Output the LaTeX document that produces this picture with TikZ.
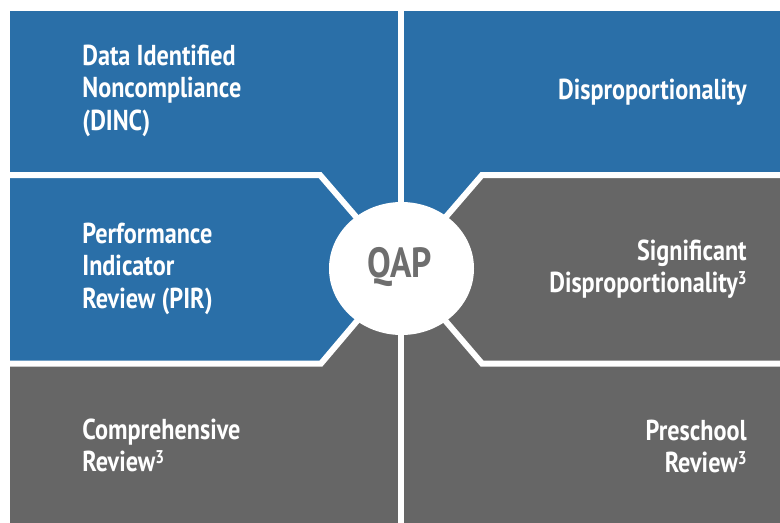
\documentclass[tikz,border=0pt]{standalone}
\usepackage{fontspec}
\newfontfamily\panelfont{PT Sans}[FakeStretch=0.84]
\usepackage{xcolor}
\usepackage{tikz}
\usetikzlibrary{calc, shapes.geometric}

\definecolor{qapblue}{RGB}{42,111,168}
\definecolor{qapgray}{RGB}{102,102,102}
\definecolor{hubtext}{RGB}{110,110,110}

\newcommand{\supthree}{\raisebox{0.27em}{\fontsize{10.5}{10}\selectfont 3}}

\tikzset{
    lbl/.style={font=\panelfont\bfseries\fontsize{16.4}{20}\selectfont, text=white, inner sep=0pt},
    gap/.style={draw=white, line width=1.2mm, line cap=butt, line join=miter},
}

\begin{document}
\begin{tikzpicture}[x=0.2mm, y=-0.2mm]
                \useasboundingbox (0,0) rectangle (780,523);
                \def\D{32.5}; % line spacing
                \coordinate (c) at (401,269);

                % panels
                \fill[qapblue] (10,11) -- (401,11) -- (c) -- (321,363) -- (10,363) -- cycle;
                \fill[qapgray] (10,363) -- (321,363) -- (c) -- (401,523) -- (10,523) -- cycle;
                \fill[qapblue] (401,11) -- (780,11) -- (780,175) -- (482,175) -- (c) -- cycle;
                \fill[qapgray] (c) -- (482,175) -- (780,175) -- (780,523) -- (401,523) -- cycle;

                % white gaps
                \draw[gap] (401,11) -- (401,523);
                \foreach \y/\xl/\xr in {175/320/482, 363.5/321/482} {
                    \draw[gap] (10,\y) -- (\xl,\y) -- (c);
                    \draw[gap] (780,\y) -- (\xr,\y) -- (c);
                }

                \node[ellipse, fill=white, minimum width=29mm, minimum height=26.6mm, inner sep=0pt] (hub) at (401.5,268.5) {};
                \node[font=\panelfont\bfseries\fontsize{24}{28}\selectfont, text=hubtext, anchor=base] (qap) at (399.5,277) {QAP};

                % left column
                \foreach[count=\i] \txt in {Data Identified, Noncompliance, {(DINC)}}
                    \node[lbl, anchor=base west] (dinc\i) at (82, 65+\D*\i-\D) {\txt};
                \foreach[count=\i] \txt in {Performance, Indicator, {Review (PIR)}}
                    \node[lbl, anchor=base west] (pir\i) at (82, 243+\D*\i-\D) {\txt};
                \foreach[count=\i] \txt in {Comprehensive, Review\supthree}
                    \node[lbl, anchor=base west] (comp\i) at (82, 439+\D*\i-\D) {\txt};

                % right column
                \node[lbl, anchor=base east] (disp) at (747, 99) {Disproportionality};
                \foreach[count=\i] \txt in {Significant, Disproportionality\supthree}
                    \node[lbl, anchor=base east] (sig\i) at (747, 260+\D*\i-\D) {\txt};
                \foreach[count=\i] \txt in {Preschool, Review\supthree}
                    \node[lbl, anchor=base east] (pre\i) at (747, 440+\D*\i-\D) {\txt};
            \end{tikzpicture}
\end{document}
